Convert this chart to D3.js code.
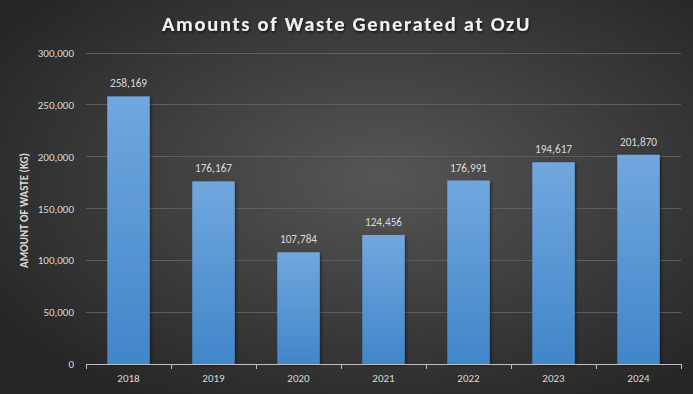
<!DOCTYPE html>
<html><head><meta charset="utf-8">
<script src="https://cdn.jsdelivr.net/npm/d3@7"></script>
<style>html,body{margin:0;padding:0;background:#2b2b2b;}svg{display:block;}</style>
</head><body>
<svg id="c" width="693" height="394"></svg>
<script>
const years = ["2018","2019","2020","2021","2022","2023","2024"];
const waste = [258169,176167,107784,124456,176991,194617,201870];
const yTicks = [0,50000,100000,150000,200000,250000,300000];

const W=693,H=394;
const m={l:86,r:12,t:53,b:30};
const svg=d3.select("#c");
const defs=svg.append("defs");
const bg=defs.append("radialGradient").attr("id","bg").attr("cx","55%").attr("cy","45%").attr("r","65%");
bg.append("stop").attr("offset","0%").attr("stop-color","#565656");
bg.append("stop").attr("offset","100%").attr("stop-color","#272727");
const bar=defs.append("linearGradient").attr("id","bar").attr("x1",0).attr("y1",0).attr("x2",0).attr("y2",1);
bar.append("stop").attr("offset","0%").attr("stop-color","#71a7de");
bar.append("stop").attr("offset","100%").attr("stop-color","#4186c9");
const f=defs.append("filter").attr("id","sh").attr("x","-20%").attr("y","-20%").attr("width","150%").attr("height","150%");
f.append("feDropShadow").attr("dx",1.5).attr("dy",1.5).attr("stdDeviation",1.5).attr("flood-color","#000").attr("flood-opacity",0.45);
const tf=defs.append("filter").attr("id","tsh").attr("x","-10%").attr("y","-30%").attr("width","120%").attr("height","160%");
tf.append("feDropShadow").attr("dx",1).attr("dy",1.5).attr("stdDeviation",1.2).attr("flood-color","#000").attr("flood-opacity",0.7);

svg.append("rect").attr("width",W).attr("height",H).attr("fill","url(#bg)");

const x=d3.scaleBand().domain(years).range([m.l,W-m.r]).paddingInner(0.5).paddingOuter(0.25);
const y=d3.scaleLinear().domain([0,300000]).range([H-m.b,m.t]);

// gridlines
svg.append("g").selectAll("line").data(yTicks.slice(1)).join("line")
  .attr("x1",m.l).attr("x2",W-m.r).attr("y1",d=>y(d)).attr("y2",d=>y(d))
  .attr("stroke","#5e5e5e").attr("stroke-width",1).attr("shape-rendering","crispEdges");

// y labels
const yAxis=d3.axisLeft(y).tickValues(yTicks).tickSize(0).tickPadding(12).tickFormat(d3.format(","));
const gy=svg.append("g").attr("transform",`translate(${m.l},0)`).call(yAxis);
gy.select(".domain").remove();
gy.selectAll("text").attr("fill","#d9d9d9").style("font-family","Carlito, 'Open Sans', sans-serif").style("font-size","11px");

// bars
svg.append("g").selectAll("rect").data(waste).join("rect")
  .attr("x",(d,i)=>x(years[i])).attr("width",x.bandwidth())
  .attr("y",d=>y(d)).attr("height",d=>y(0)-y(d))
  .attr("fill","url(#bar)").attr("filter","url(#sh)");

// value labels
svg.append("g").selectAll("text").data(waste).join("text")
  .attr("x",(d,i)=>x(years[i])+x.bandwidth()/2).attr("y",d=>y(d)-9)
  .attr("text-anchor","middle").attr("fill","#d9d9d9")
  .style("font-family","Carlito, 'Open Sans', sans-serif").style("font-size","11.3px")
  .text(d=>d3.format(",")(d));

// x axis
const xAxis=d3.axisBottom(x).tickSize(0).tickPadding(10);
const gx=svg.append("g").attr("transform",`translate(0,${y(0)})`).call(xAxis);
gx.select(".domain").attr("stroke","#bfbfbf");
gx.selectAll("text").attr("fill","#d9d9d9").style("font-family","Carlito, 'Open Sans', sans-serif").style("font-size","11px");
const bounds=d3.range(years.length+1).map(i=>m.l+i*(W-m.r-m.l)/years.length);
gx.append("g").selectAll("line").data(bounds).join("line")
  .attr("x1",d=>d).attr("x2",d=>d).attr("y1",0).attr("y2",5)
  .attr("stroke","#bfbfbf").attr("shape-rendering","crispEdges");

// y title
svg.append("text").attr("transform",`translate(28,${(m.t+H-m.b)/2+2}) rotate(-90)`)
  .attr("text-anchor","middle").attr("fill","#d9d9d9")
  .style("font-family","Carlito, 'Open Sans', sans-serif").style("font-size","11px").style("font-weight","bold")
  .text("AMOUNT OF WASTE (KG)");

// title
svg.append("text").attr("x",W/2).attr("y",31).attr("text-anchor","middle").attr("fill","#f2f2f2")
  .attr("filter","url(#tsh)")
  .style("font-family","Carlito, 'Open Sans', sans-serif").style("font-size","20.5px").style("font-weight","bold")
  .style("letter-spacing","1.7px")
  .text("Amounts of Waste Generated at OzU");
</script>
</body></html>
